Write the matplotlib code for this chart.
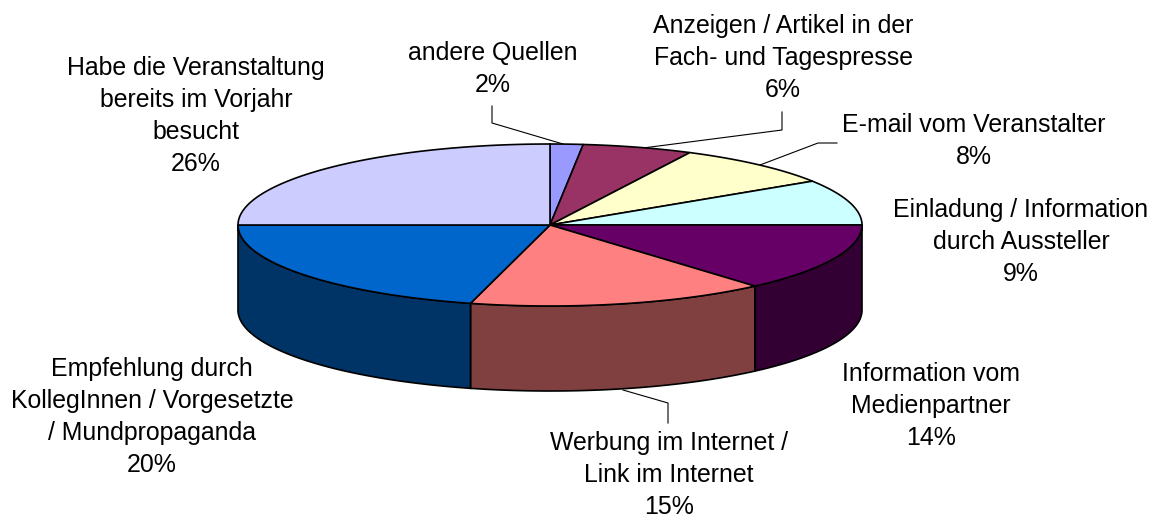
import numpy as np
import matplotlib
matplotlib.use("Agg")
from matplotlib import pyplot as plt
from matplotlib.patches import Polygon

labels = ["andere Quellen\n2%", "Anzeigen / Artikel in der\nFach- und Tagespresse\n6%",
          "E-mail vom Veranstalter\n8%", "Einladung / Information\ndurch Aussteller\n9%",
          "Information vom\nMedienpartner\n14%", "Werbung im Internet /\nLink im Internet\n15%",
          "Empfehlung durch\nKollegInnen / Vorgesetzte\n/ Mundpropaganda\n20%",
          "Habe die Veranstaltung\nbereits im Vorjahr\nbesucht\n26%"]
# slice sizes as measured on the drawn pie, the labels are rounded
values = [1.7, 5.7, 8.5, 9.1, 13.6, 15.5, 20.9, 25.0]
top_colors = ["#9999FF", "#993366", "#FFFFCC", "#CCFFFF", "#660066", "#FF8080", "#0066CC", "#CCCCFF"]
side_colors = ["#4D4D80", "#4D1A33", "#808066", "#668080", "#330033", "#804040", "#003366", "#666680"]
label_x = [493, 783, 974, 1021, 931, 669, 152, 196]
label_y = [69, 58, 141, 242, 406, 475, 417, 116]

cx, cy, rx, ry, depth = 550, 225, 312, 81, 85

plt.rcParams['font.family'] = ['Liberation Sans', 'DejaVu Sans']
fig = plt.figure(figsize=(11.54, 5.15), dpi=100)
ax = fig.add_axes([0, 0, 1, 1])
ax.set_xlim(0, 1154)
ax.set_ylim(515, 0)
ax.axis("off")


def rim(a, b):
    t = np.radians(np.linspace(a, b, 120))
    return cx + rx*np.sin(t), cy - ry*np.cos(t)


edges = np.concatenate([[0], np.cumsum(values)]) * 3.6

# side walls, only the front half (90-270 deg) can be seen
for i in range(len(values)):
    a = max(edges[i], 90)
    b = min(edges[i+1], 270)
    if a >= b:
        continue
    x, y = rim(a, b)
    pts = np.vstack([np.c_[x, y], np.c_[x[::-1], y[::-1] + depth]])
    ax.add_patch(Polygon(pts, fc=side_colors[i], ec="black", lw=1.2))

# top
for i in range(len(values)):
    x, y = rim(edges[i], edges[i+1])
    pts = np.vstack([[cx, cy], np.c_[x, y]])
    ax.add_patch(Polygon(pts, fc=top_colors[i], ec="black", lw=1.2))

# leader lines
ax.plot([492, 492, 563], [106, 123, 144], color="black", lw=0.8, zorder=0)
ax.plot([782, 782, 643], [112, 130, 148], color="black", lw=0.8, zorder=0)
ax.plot([837, 818, 760], [143, 143, 165], color="black", lw=0.8, zorder=0)
ax.plot([668, 668, 623], [423, 403, 390], color="black", lw=0.8, zorder=0)

for s, x, y in zip(labels, label_x, label_y):
    ax.text(x, y, s, ha="center", va="center", fontsize=17.9, linespacing=1.42, color="black")

fig.savefig("out.png", dpi=100)
